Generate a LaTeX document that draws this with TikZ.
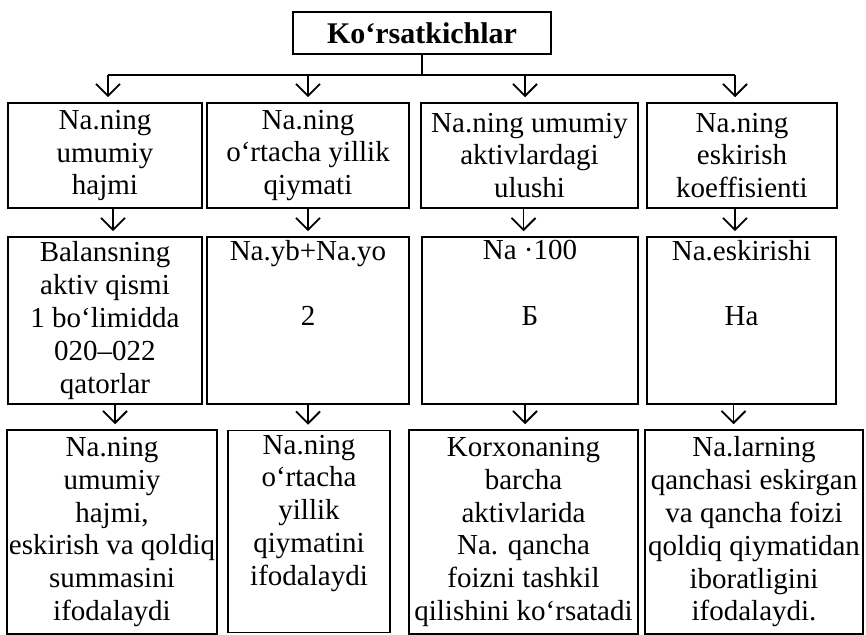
\documentclass[tikz,border=0pt]{standalone}
\usepackage{fontspec}
\setmainfont{Liberation Serif}
\usetikzlibrary{arrows.meta,positioning}

\tikzset{
  cell/.style={draw, line width=0.75pt, rectangle, align=center, inner xsep=0pt, inner ysep=1.5pt,
    font=\fontsize{14.5}{16.4}\selectfont},
  head/.style={cell, font=\fontsize{15}{17}\selectfont\bfseries},
  link/.style={line width=0.9pt, -{Straight Barb[length=6pt,width=12pt,line width=0.9pt]},
    shorten >=2.5pt},
  bar/.style={line width=0.9pt}
}

\begin{document}
\begin{tikzpicture}[x=0.5pt, y=-0.5pt]
            \useasboundingbox (0,0) rectangle (866,635);
            \node[head, minimum width=129pt, minimum height=21pt] (top) at (422,33) {Ko‘rsatkichlar};
            % row 1
            \node[cell, minimum width=97pt, minimum height=52.5pt] (a1) at (105,155.5) {Na.ning\\ umumiy\\ hajmi};
            \node[cell, minimum width=101pt, minimum height=52.5pt] (a2) at (308,155.5) {Na.ning\\ o‘rtacha yillik\\ qiymati};
            \node[cell, minimum width=108.5pt, minimum height=52.5pt] (a3) at (529.5,155.5) {Na.ning umumiy\\ aktivlardagi\\ ulushi};
            \node[cell, minimum width=95pt, minimum height=52.5pt] (a4) at (742,155.5) {Na.ning\\ eskirish\\ koeffisienti};
            % row 2
            \node[cell, minimum width=97pt, minimum height=83.5pt] (b1) at (105,320.5) {Balansning\\ aktiv qismi\\ 1 bo‘limidda\\ 020–022\\ qatorlar};
            \node[cell, minimum width=101pt, minimum height=83.5pt] (b2) at (308,320.5) {Na.yb+Na.yo\\ \strut\\ 2\\ \strut\\ \strut};
            \node[cell, minimum width=108pt, minimum height=83.5pt] (b3) at (530,320.5) {Na ·100\\ \strut\\ Б\\ \strut\\ \strut};
            \node[cell, minimum width=94.5pt, minimum height=83.5pt] (b4) at (741.5,320.5) {Na.eskirishi\\ \strut\\ На\\ \strut\\ \strut};
            % row 3
            \node[cell, minimum width=105pt, minimum height=102pt] (c1) at (112,532) {Na.ning\\ umumiy\\ hajmi,\\ eskirish va qoldiq\\ summasini\\ ifodalaydi};
            \node[cell, minimum width=81pt, minimum height=101pt] (c2) at (309,531.5) {Na.ning\\ o‘rtacha\\ yillik\\ qiymatini\\ ifodalaydi\\ \strut};
            \node[cell, minimum width=114.5pt, minimum height=102pt] (c3) at (523.5,532) {Korxonaning\\ barcha\\ aktivlarida\\ Na. qancha\\ foizni tashkil\\ qilishini ko‘rsatadi};
            \node[cell, minimum width=109pt, minimum height=102pt] (c4) at (754,532) {Na.larning\\ qanchasi eskirgan\\ va qancha foizi\\ qoldiq qiymatidan\\ iboratligini\\ ifodalaydi.};
            % branching from the head
            \coordinate (j1) at (108,75);
            \coordinate (j2) at (308,75);
            \coordinate (j3) at (525,75);
            \coordinate (j4) at (735,75);
            \draw[bar] (top.south) -- (top.south |- j1);
            \draw[bar] (j1) -- (j4);
            \foreach \j/\n in {j1/a1, j2/a2, j3/a3, j4/a4}
              \draw[link] (\j) -- (\j |- \n.north);
            % row to row
            \foreach \u/\l/\d in {a1/b1/4pt, a2/b2/0pt, a3/b3/-3pt, a4/b4/-3.5pt,
                                  b1/c1/5pt, b2/c2/0pt, b3/c3/-2.5pt, b4/c4/-4pt} {
              \coordinate (s) at ([xshift=\d]\u.south);
              \draw[link] (s) -- (s |- \l.north);
            }
\end{tikzpicture}
\end{document}
